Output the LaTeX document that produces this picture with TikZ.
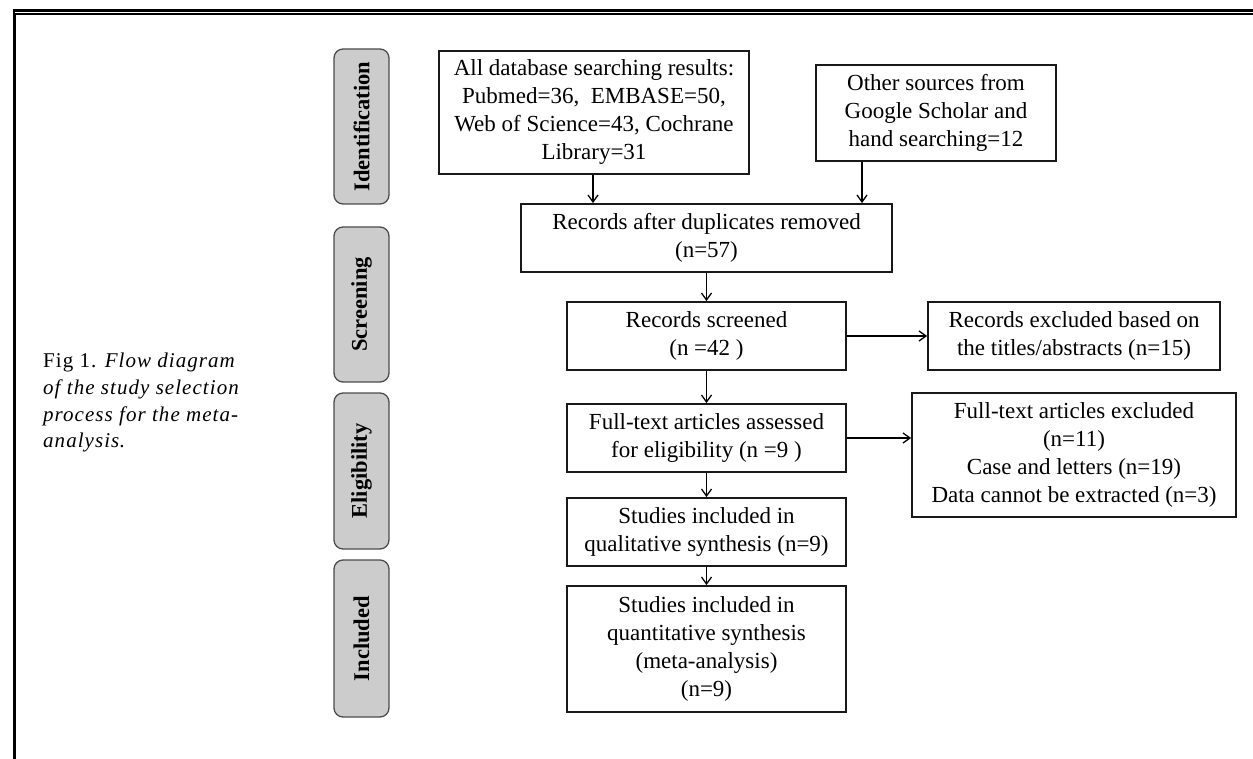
\documentclass[tikz,border=0pt]{standalone}
\usepackage{fontspec}
\setmainfont{Liberation Serif}
\usetikzlibrary{arrows.meta,calc}
\begin{document}
\begin{tikzpicture}[x=1pt,y=-1pt,
  flowbox/.style={draw=black!90, line width=1.8pt, inner sep=0pt, align=center,
    font=\fontsize{23}{28}\selectfont},
  stagebox/.style={draw=black!70, fill=black!20, line width=1.3pt, rounded corners=9pt,
    inner sep=0pt, rotate=90, minimum height=55pt,
    font=\bfseries\fontsize{22.5}{27}\selectfont},
  arr/.style={line width=1.3pt, -{Straight Barb[length=7pt,width=10pt]}},
  border/.style={line cap=butt}
]
\useasboundingbox (0,0) rectangle (1253,759);
% page frame
\draw[border, line width=3pt] (12.7,10.8) -- (1253,10.8);
\draw[border, line width=1.2pt] (15.7,14) -- (1253,14);
\draw[border, line width=2pt] (13.7,9.3) -- (13.7,759);
\draw[border, line width=1pt] (15.7,13.4) -- (15.7,759);

% caption
\node[anchor=north west, align=left, inner sep=0pt,
      font=\fontsize{21}{26.7}\selectfont\addfontfeatures{LetterSpace=5}] (cap) at (43,353)
  {Fig 1. \textit{Flow diagram}\\ \textit{of the study selection}\\
   \textit{process for the meta-}\\ \textit{analysis}.};

% stage labels
\node[stagebox, minimum width=155pt] (s1) at (361.5,126.5) {Identification};
\node[stagebox, minimum width=155pt] (s2) at (361.5,304.5) {Screening};
\node[stagebox, minimum width=156pt] (s3) at (361.5,471) {Eligibility};
\node[stagebox, minimum width=157pt] (s4) at (361.5,638.5) {Included};

% flow boxes
\node[flowbox, minimum width=310pt, minimum height=123pt] (A) at (594,112.5)
  {All database searching results:\\ Pubmed=36,\ \ EMBASE=50,\\ Web of Science=43, Cochrane\\ Library=31};
\node[flowbox, minimum width=240pt, minimum height=96pt] (B) at (936,113)
  {Other sources from\\ Google Scholar and\\ hand searching=12};
\node[flowbox, minimum width=371pt, minimum height=68pt] (C) at (706.5,238)
  {Records after duplicates removed\\ (n=57)};
\node[flowbox, minimum width=279pt, minimum height=68pt] (D) at (706.5,336)
  {Records screened\\ (n =42 )};
\node[flowbox, minimum width=292pt, minimum height=68pt] (E) at (1074,336)
  {Records excluded based on\\ the titles/abstracts (n=15)};
\node[flowbox, minimum width=279pt, minimum height=68pt] (F) at (706.5,438)
  {Full-text articles assessed\\ for eligibility (n =9 )};
\node[flowbox, minimum width=324pt, minimum height=124pt] (G) at (1074,455)
  {Full-text articles excluded\\ (n=11)\\ Case and letters (n=19)\\ Data cannot be extracted (n=3)};
\node[flowbox, minimum width=279pt, minimum height=68pt] (H) at (706.5,532)
  {Studies included in\\ qualitative synthesis (n=9)};
\node[flowbox, minimum width=279pt, minimum height=126pt] (I) at (706.5,649)
  {Studies included in\\ quantitative synthesis\\ (meta-analysis)\\ (n=9)};

% connectors
\draw[arr] ([xshift=-1pt]A.south) -- ([xshift=-1pt]A.south |- C.north);
\draw[arr] ([xshift=-74pt]B.south) -- ([xshift=-74pt]B.south |- C.north);
\draw[arr] (C.south) -- (D.north);
\draw[arr] (D.south) -- (F.north);
\draw[arr] (F.south) -- (H.north);
\draw[arr] (H.south) -- (I.north);
\draw[arr] (D.east) -- (D.east -| E.west);
\draw[arr] (F.east) -- (F.east -| G.west);
\end{tikzpicture}
\end{document}
